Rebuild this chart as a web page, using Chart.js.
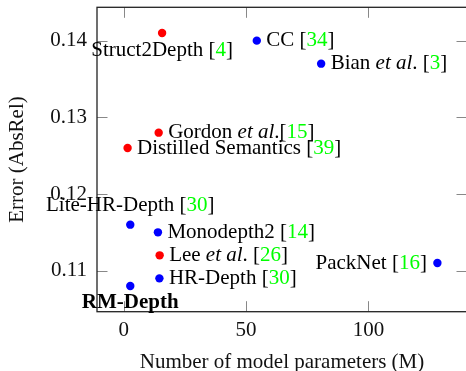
<!DOCTYPE html>
<html>
<head>
<meta charset="utf-8">
<script src="https://cdn.jsdelivr.net/npm/chart.js@4.4.1/dist/chart.umd.min.js"></script>
<style>
    html, body { margin: 0; padding: 0; background: #fff; overflow: hidden; }
    canvas { display: block; }
</style>
</head>
<body>
<canvas id="graficoErro" width="480" height="371"></canvas>
<script>
// dados
const metodos = ['Struct2Depth [4]', 'Gordon et al.[15]', 'Distilled Semantics [39]', 'CC [34]', 'Bian et al. [3]',
    'Lite-HR-Depth [30]', 'Monodepth2 [14]', 'Lee et al. [26]', 'HR-Depth [30]', 'RM-Depth', 'PackNet [16]'];
const parametros = [15.7, 14.3, 1.6, 54.4, 80.7, 2.7, 14.0, 14.7, 14.6, 2.7, 128.2];
const absRel = [0.141, 0.128, 0.126, 0.140, 0.137, 0.116, 0.115, 0.112, 0.109, 0.108, 0.111];
const grupo = ['red', 'red', 'red', 'blue', 'blue', 'blue', 'blue', 'red', 'blue', 'blue', 'blue'];
const posicaoRotulo = ['below', 'right', 'right', 'right', 'right', 'above', 'right', 'right', 'right', 'below', 'left'];
const xTicks = [0, 50, 100];
const yTicks = [0.11, 0.12, 0.13, 0.14];

const fonte = '"Liberation Serif", "Times New Roman", serif';
Chart.defaults.font.family = fonte;
Chart.defaults.font.size = 21;
Chart.defaults.color = '#000';

function pontos(cor) {
    return parametros
        .map((p, i) => ({ x: p, y: absRel[i], g: grupo[i] }))
        .filter(d => d.g === cor);
}

// quebra o rótulo em partes: "et al" em itálico, número da citação em verde
function partes(texto, negrito) {
    const out = [];
    const ini = texto.indexOf('[');
    const nome = ini >= 0 ? texto.slice(0, ini) : texto;
    const pedacos = nome.split('et al');
    pedacos.forEach((p, k) => {
        if (k > 0) out.push({ t: 'et al', estilo: 'italic ', cor: '#000' });
        if (p) out.push({ t: p, estilo: negrito ? 'bold ' : '', cor: '#000' });
    });
    if (ini >= 0) {
        const num = texto.slice(ini + 1, texto.indexOf(']'));
        out.push({ t: '[', estilo: '', cor: '#000' });
        out.push({ t: num, estilo: '', cor: '#00ff00' });
        out.push({ t: ']', estilo: '', cor: '#000' });
    }
    return out;
}

const moldura = {
    id: 'moldura',
    beforeDatasetsDraw(chart) {
        const { ctx, chartArea: a, scales } = chart;
        ctx.save();
        ctx.strokeStyle = '#888';
        ctx.lineWidth = 1;
        const len = 10.5;
        xTicks.forEach(v => {
            const px = Math.round(scales.x.getPixelForValue(v)) + 0.5;
            ctx.beginPath();
            ctx.moveTo(px, a.bottom); ctx.lineTo(px, a.bottom - len);
            ctx.moveTo(px, a.top); ctx.lineTo(px, a.top + len);
            ctx.stroke();
        });
        yTicks.forEach(v => {
            const py = Math.round(scales.y.getPixelForValue(v)) + 0.5;
            ctx.beginPath();
            ctx.moveTo(a.left, py); ctx.lineTo(a.left + len, py);
            ctx.moveTo(a.right, py); ctx.lineTo(a.right - len, py);
            ctx.stroke();
        });
        ctx.strokeStyle = '#222';
        ctx.lineWidth = 1.3;
        ctx.strokeRect(a.left, a.top, a.right - a.left, a.bottom - a.top);
        ctx.restore();
    }
};

const rotulos = {
    id: 'rotulos',
    afterDatasetsDraw(chart) {
        const { ctx, scales } = chart;
        ctx.save();
        ctx.textBaseline = 'middle';
        ctx.textAlign = 'left';
        metodos.forEach((m, i) => {
            const px = scales.x.getPixelForValue(parametros[i]);
            const py = scales.y.getPixelForValue(absRel[i]);
            const ps = partes(m, m === 'RM-Depth');
            let w = 0;
            ps.forEach(p => {
                ctx.font = p.estilo + '21px ' + fonte;
                p.w = ctx.measureText(p.t).width;
                w += p.w;
            });
            let x = px + 9.5, y = py;
            const lado = posicaoRotulo[i];
            if (lado === 'left') x = px - 10.5 - w;
            if (lado === 'above') { x = px - w / 2; y = py - 19; }
            if (lado === 'below') { x = px - w / 2; y = py + 17; }
            ps.forEach(p => {
                ctx.font = p.estilo + '21px ' + fonte;
                ctx.fillStyle = p.cor;
                ctx.fillText(p.t, x, y);
                x += p.w;
            });
        });
        ctx.restore();
    }
};

const ctx = document.getElementById('graficoErro');

new Chart(ctx, {
    type: 'scatter',

    data: {
        datasets: [{
            data: pontos('red'),
            backgroundColor: '#ff0000',
            borderWidth: 0,
            pointRadius: 4.2
        }, {
            data: pontos('blue'),
            backgroundColor: '#0000ff',
            borderWidth: 0,
            pointRadius: 4.2
        }]
    },

    options: {
        responsive: false,
        animation: false,

        layout: {
            padding: { top: 7.3, right: 13, left: 0, bottom: 0 }
        },

        plugins: {
            legend: { display: false },
            tooltip: { enabled: false }
        },

        scales: {
            x: {
                type: 'linear',
                min: -10.9,
                max: 140.3,
                grid: { display: false, drawTicks: false },
                border: { display: false },
                afterBuildTicks: s => { s.ticks = xTicks.map(v => ({ value: v })); },
                afterFit: s => { s.height = 59.3; s.paddingLeft = 0; s.paddingRight = 0; },
                ticks: { padding: 6, color: '#111' },
                title: {
                    display: true,
                    text: 'Number of model parameters (M)',
                    color: '#111',
                    padding: 0,
                    font: { size: 21, lineHeight: 0.8 }
                }
            },
            y: {
                min: 0.10465,
                max: 0.14435,
                grid: { display: false, drawTicks: false },
                border: { display: false },
                afterBuildTicks: s => { s.ticks = yTicks.map(v => ({ value: v })); },
                afterFit: s => { s.width = 97; s.paddingTop = 0; s.paddingBottom = 0; },
                ticks: {
                    padding: 10,
                    color: '#111',
                    callback: v => v.toFixed(2)
                },
                title: {
                    display: true,
                    text: 'Error (AbsRel)',
                    color: '#111',
                    padding: { top: 5, bottom: 0 }
                }
            }
        }
    },

    plugins: [moldura, rotulos]
});
</script>
</body>
</html>
